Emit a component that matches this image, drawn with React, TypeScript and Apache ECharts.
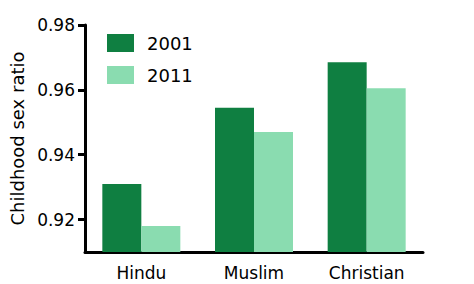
import React, { useEffect, useRef } from "react";
import * as echarts from "echarts";

const categories = ["Hindu", "Muslim", "Christian"];
const seriesNames = ["2001", "2011"];
const values2001 = [0.931, 0.9545, 0.9685];
const values2011 = [0.918, 0.947, 0.9605];
const yTicks = [0.92, 0.94, 0.96, 0.98];
const colors = ["#0f7f41", "#8adcb0"];

export default function App() {
  const ref = useRef<HTMLDivElement>(null);
  useEffect(() => {
    const chart = echarts.init(ref.current!, null, { renderer: "svg" });
    const font = "DejaVu Sans";
    chart.setOption({
      animation: false,
      textStyle: { fontFamily: font, color: "#000" },
      grid: { left: 85, right: 51, top: 25, bottom: 32, containLabel: false },
      legend: {
        orient: "vertical",
        left: 107,
        top: 34,
        padding: 0,
        itemWidth: 27,
        itemHeight: 18,
        itemGap: 14,
        icon: "rect",
        data: seriesNames,
        textStyle: { fontFamily: font, fontSize: 18, color: "#000", padding: [0, 0, 0, 8] },
      },
      xAxis: {
        type: "category",
        data: categories,
        axisLine: { lineStyle: { color: "#000", width: 3 } },
        axisTick: { alignWithLabel: true, length: 7, lineStyle: { color: "#000", width: 3 } },
        axisLabel: { fontFamily: font, fontSize: 17, color: "#000", margin: 12 },
      },
      yAxis: {
        type: "value",
        min: 0.91,
        max: 0.98,
        name: "Childhood sex ratio",
        nameLocation: "middle",
        nameGap: 57,
        nameTextStyle: { fontFamily: font, fontSize: 18, color: "#000" },
        splitLine: { show: false },
        axisLine: { show: true, lineStyle: { color: "#000", width: 3 } },
        axisTick: { show: true, length: 7, customValues: yTicks, lineStyle: { color: "#000", width: 3 } },
        axisLabel: {
          fontFamily: font,
          fontSize: 17,
          color: "#000",
          margin: 10,
          customValues: yTicks,
          formatter: (v: number) => v.toFixed(2),
        },
      },
      series: [
        {
          name: seriesNames[0],
          type: "bar",
          data: values2001,
          barWidth: 39,
          barGap: "0%",
          itemStyle: { color: colors[0] },
        },
        {
          name: seriesNames[1],
          type: "bar",
          data: values2011,
          barWidth: 39,
          itemStyle: { color: colors[1] },
        },
      ],
    });
    return () => chart.dispose();
  }, []);
  return <div ref={ref} style={{ width: 474, height: 284, position: "absolute", left: 0, top: 0 }} />;
}
